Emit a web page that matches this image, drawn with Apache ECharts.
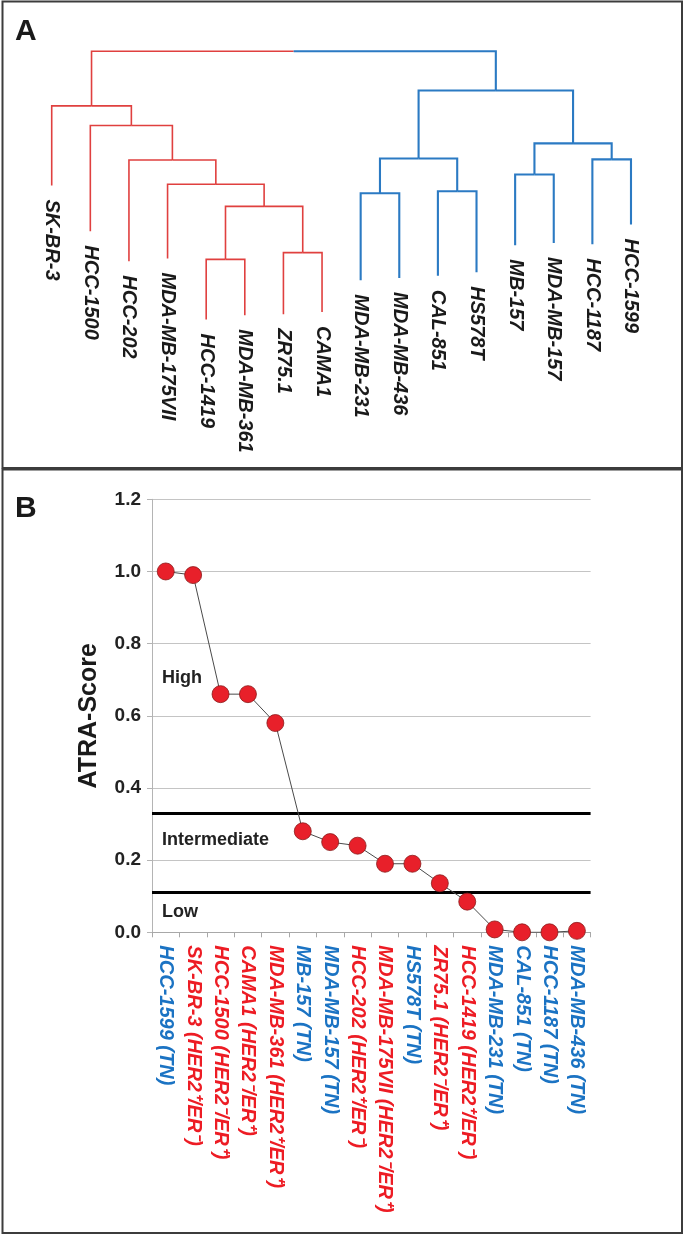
<!DOCTYPE html>
<html>
<head>
<meta charset="utf-8">
<script src="https://cdn.jsdelivr.net/npm/echarts@6/dist/echarts.min.js"></script>
<style>
html,body{margin:0;padding:0;background:#fff;}
#chart{width:685px;height:1236px;}
</style>
</head>
<body>
<div id="chart"></div>
<script>
// ---------- Panel A: hierarchical clustering ----------
const leafNames = ['SK-BR-3','HCC-1500','HCC-202','MDA-MB-175VII','HCC-1419','MDA-MB-361','ZR75.1','CAMA1',
                   'MDA-MB-231','MDA-MB-436','CAL-851','HS578T','MB-157','MDA-MB-157','HCC-1187','HCC-1599'];
// height at which each leaf branch ends
const leafHeights = [52.1, 35.7, 25.0, 26.0, 4.2, 5.7, 6.1, 6.9, 18.2, 19.0, 19.8, 21.1, 30.7, 31.5, 31.1, 38.1];
// cluster of each leaf (0 = red cluster, 1 = blue cluster)
const leafClusters = [0,0,0,0,0,0,0,0,1,1,1,1,1,1,1,1];
// merges (linkage): leaves are 0..15, merged nodes get ids 16, 17, ...
const mergeLeft   = [4, 6, 16, 3, 2, 1, 0, 8, 10, 23, 12, 14, 26, 25, 22];
const mergeRight  = [5, 7, 17, 18, 19, 20, 21, 9, 11, 24, 13, 15, 27, 28, 29];
const mergeHeights = [25.7, 28.1, 44.6, 52.5, 61.2, 73.5, 80.5, 49.3, 50.0, 61.7, 56.0, 61.4, 67.1, 86.0, 100];

// ---------- Panel B: ATRA-Score ----------
const cellLines = ['HCC-1599','SK-BR-3','HCC-1500','CAMA1','MDA-MB-361','MB-157','MDA-MB-157','HCC-202',
                   'MDA-MB-175VII','HS578T','ZR75.1','HCC-1419','MDA-MB-231','CAL-851','HCC-1187','MDA-MB-436'];
const cellTypes = ['TN','HER2\u207A/ER\u207B','HER2\u207B/ER\u207A','HER2\u207B/ER\u207A','HER2\u207A/ER\u207A','TN','TN','HER2\u207A/ER\u207B',
                   'HER2\u207B/ER\u207A','TN','HER2\u207B/ER\u207A','HER2\u207A/ER\u207B','TN','TN','TN','TN'];
const atraScores = [1.0, 0.99, 0.66, 0.66, 0.58, 0.28, 0.25, 0.24, 0.19, 0.19, 0.136, 0.085, 0.008, 0.0, 0.0, 0.004];
const thresholds = [0.333, 0.111];
const zoneNames = ['High', 'Intermediate', 'Low'];
const yTickLabels = ['0.0','0.2','0.4','0.6','0.8','1.0','1.2'];

const RED = '#e0403f', BLUE = '#2b7ac3';
const LABEL_RED = '#ed1c24', LABEL_BLUE = '#1b73c3';
const clusterColors = [RED, BLUE];
const clusterWidths = [1.6, 2.1];
const FONT = "'Liberation Sans', Arial, Helvetica, sans-serif";

// node positions derived from the linkage
const nodeX = leafNames.map((_, i) => i);
const nodeH = leafHeights.slice();
const nodeCluster = leafClusters.slice();
mergeLeft.forEach((l, k) => {
  const r = mergeRight[k];
  nodeX.push((nodeX[l] + nodeX[r]) / 2);
  nodeH.push(mergeHeights[k]);
  nodeCluster.push(nodeCluster[l] === nodeCluster[r] ? nodeCluster[l] : -1);
});

const chart = echarts.init(document.getElementById('chart'), null, {renderer: 'canvas'});

const option = {
  animation: false,
  backgroundColor: '#fff',
  grid: [
    {left: 32.4, right: 34.7, top: 51.3, height: 280},
    {left: 152, right: 94.4, top: 499.3, bottom: 303.7}
  ],
  xAxis: [
    {gridIndex: 0, type: 'value', min: -0.5, max: 15.5, show: false},
    {gridIndex: 1, type: 'category', data: cellLines, boundaryGap: true,
     axisLine: {show: true, lineStyle: {color: '#a8a8a8', width: 1}},
     axisTick: {show: true, length: 5, alignWithLabel: false, lineStyle: {color: '#a8a8a8'}},
     splitLine: {show: false},
     axisLabel: {
       interval: 0, rotate: -90, margin: 13,
       fontFamily: FONT, fontSize: 20, fontWeight: 'bold', fontStyle: 'italic',
       formatter: (v, i) => v + ' (' + cellTypes[i] + ')',
       color: (v, i) => cellTypes[i] === 'TN' ? LABEL_BLUE : LABEL_RED
     }}
  ],
  yAxis: [
    {gridIndex: 0, type: 'value', min: 0, max: 100, show: false},
    {gridIndex: 1, type: 'value', min: 0, max: 1.2, interval: 0.2,
     name: 'ATRA-Score', nameLocation: 'middle', nameRotate: 90, nameGap: 50,
     nameTextStyle: {fontFamily: FONT, fontSize: 25, fontWeight: 'bold', color: '#1a1a1a'},
     axisLine: {show: true, lineStyle: {color: '#b4b4b4', width: 1}},
     axisTick: {show: true, length: 5, lineStyle: {color: '#b4b4b4'}},
     splitLine: {show: true, lineStyle: {color: '#c4c4c4', width: 1}},
     axisLabel: {
       margin: 11, fontFamily: FONT, fontSize: 19, fontWeight: 'bold', color: '#222',
       formatter: (v) => yTickLabels[Math.round(v / 0.2)]
     }}
  ],
  series: [
    {
      type: 'custom', name: 'dendrogram', xAxisIndex: 0, yAxisIndex: 0, silent: true,
      data: mergeHeights.map((h, k) => [nodeX[leafNames.length + k], h, k]),
      renderItem: (params, api) => {
        const k = api.value(2);
        const l = mergeLeft[k], r = mergeRight[k], h = mergeHeights[k];
        const pL0 = api.coord([nodeX[l], nodeH[l]]);
        const pL1 = api.coord([nodeX[l], h]);
        const pR0 = api.coord([nodeX[r], nodeH[r]]);
        const pR1 = api.coord([nodeX[r], h]);
        const mid = [(pL1[0] + pR1[0]) / 2, pL1[1]];
        const cl = nodeCluster[l], cr = nodeCluster[r];
        return {type: 'group', children: [
          {type: 'polyline', shape: {points: [pL0, pL1, mid]},
           style: {stroke: clusterColors[cl], lineWidth: clusterWidths[cl], fill: null}},
          {type: 'polyline', shape: {points: [mid, pR1, pR0]},
           style: {stroke: clusterColors[cr], lineWidth: clusterWidths[cr], fill: null}}
        ]};
      }
    },
    {
      type: 'custom', name: 'leafLabels', xAxisIndex: 0, yAxisIndex: 0, silent: true,
      data: leafNames.map((n, i) => [i, leafHeights[i]]),
      renderItem: (params, api) => {
        const p = api.coord([api.value(0), api.value(1)]);
        return {type: 'text', x: p[0], y: p[1] + 14, rotation: -Math.PI / 2,
          style: {text: leafNames[params.dataIndex], fill: '#1a1a1a',
            font: "italic bold 20px " + FONT, align: 'left', verticalAlign: 'middle',
            textAlign: 'left', textVerticalAlign: 'middle'}};
      }
    },
    {
      type: 'line', name: 'ATRA-Score', xAxisIndex: 1, yAxisIndex: 1,
      data: atraScores,
      symbol: 'circle', symbolSize: 17, showSymbol: true,
      lineStyle: {color: '#4a4a4a', width: 1},
      itemStyle: {color: '#e8202a', borderColor: '#8a1a1a', borderWidth: 0.8},
      z: 5,
      markLine: {
        silent: true, symbol: ['none', 'none'], label: {show: false},
        lineStyle: {color: '#000', width: 3, type: 'solid'},
        data: thresholds.map(t => ({yAxis: t}))
      }
    }
  ],
  graphic: [
    {type: 'rect', shape: {x: 2.5, y: 1.5, width: 679.5, height: 466.5},
     style: {fill: null, stroke: '#3c3c3c', lineWidth: 2}, silent: true},
    {type: 'rect', shape: {x: 2.5, y: 469.5, width: 679.5, height: 763.5},
     style: {fill: null, stroke: '#3c3c3c', lineWidth: 2}, silent: true},
    {type: 'text', x: 15, y: 32, style: {text: 'A', font: 'bold 30px ' + FONT, fill: '#1a1a1a',
      verticalAlign: 'middle', textVerticalAlign: 'middle'}},
    {type: 'text', x: 15, y: 509, style: {text: 'B', font: 'bold 30px ' + FONT, fill: '#1a1a1a',
      verticalAlign: 'middle', textVerticalAlign: 'middle'}},
    {type: 'text', x: 162, y: 678, style: {text: zoneNames[0], font: 'bold 18px ' + FONT, fill: '#222',
      verticalAlign: 'middle', textVerticalAlign: 'middle'}},
    {type: 'text', x: 162, y: 840, style: {text: zoneNames[1], font: 'bold 18px ' + FONT, fill: '#222',
      verticalAlign: 'middle', textVerticalAlign: 'middle'}},
    {type: 'text', x: 162, y: 912, style: {text: zoneNames[2], font: 'bold 18px ' + FONT, fill: '#222',
      verticalAlign: 'middle', textVerticalAlign: 'middle'}}
  ]
};
chart.setOption(option);
</script>
</body>
</html>
